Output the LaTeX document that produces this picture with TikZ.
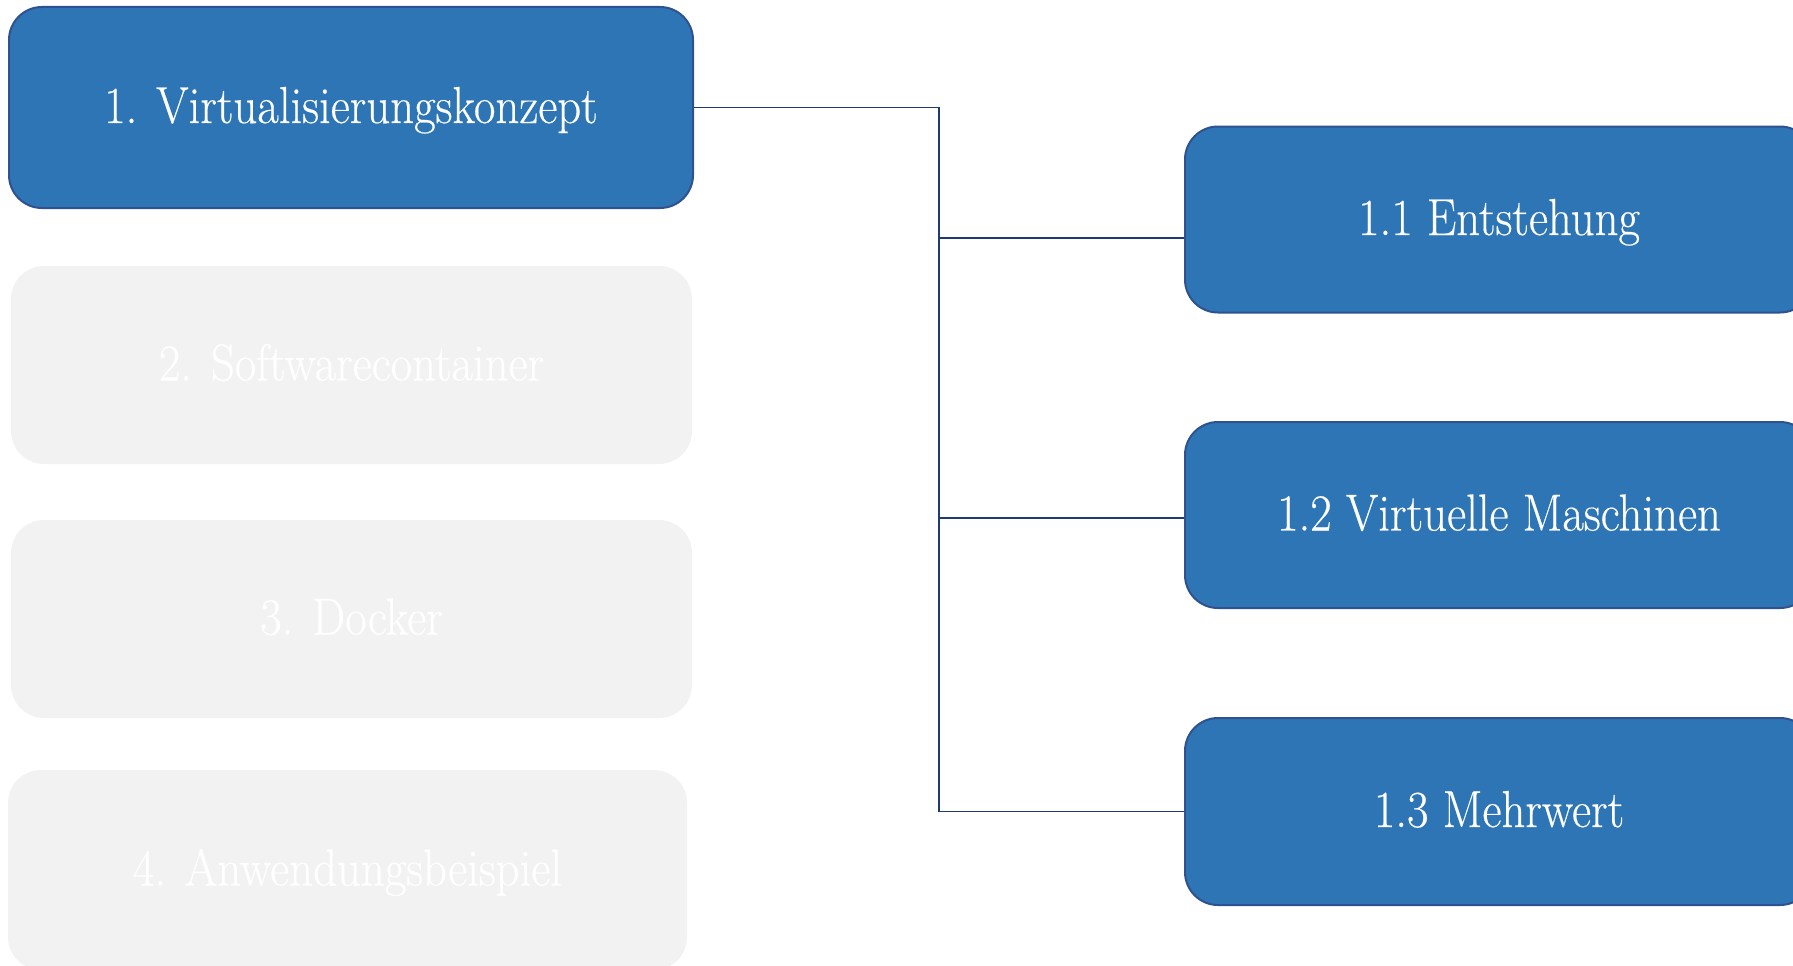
\documentclass[tikz,border=0pt]{standalone}
\usepackage{fontspec}
\setmainfont{Latin Modern Roman}[FakeStretch=0.9, FakeBold=0.4]
\usetikzlibrary{calc}
\definecolor{boxblue}{HTML}{2E75B6}
\definecolor{boxedge}{HTML}{2F528F}
\definecolor{linknavy}{HTML}{1F3A6E}
\definecolor{mutedfill}{HTML}{F2F2F2}
\begin{document}
\begin{tikzpicture}[x=1pt,y=-1pt,
  boxtext/.style={text=white, font=\fontsize{52}{60}\selectfont, inner sep=0pt,
    text height=38pt, text depth=7pt, rounded corners=33pt},
  topic/.style={boxtext, draw=boxedge, line width=2pt, fill=boxblue},
  muted/.style={boxtext, fill=mutedfill},
  link/.style={draw=linknavy, line width=1.5pt}]
  \useasboundingbox (0,0) rectangle (1793,966);
  \clip (0,0) rectangle (1793,966);

  % main chapters
  \node[topic, minimum width=684pt, minimum height=201pt] (c1) at (351,107.5) {1. Virtualisierungskonzept};
  \node[muted, minimum width=681pt, minimum height=198pt] (c2) at (351.5,365) {2. Softwarecontainer};
  \node[muted, minimum width=681pt, minimum height=198pt] (c3) at (351.5,619) {3. Docker};
  \node[muted, minimum width=679pt, minimum height=200pt] (c4) at (347.5,870) {4. Anwendungsbeispiel};

  % sub-sections of chapter 1
  \node[topic, minimum width=628pt, minimum height=186pt] (s1) at (1499,219.5) {1.1 Entstehung};
  \node[topic, minimum width=628pt, minimum height=186pt] (s2) at (1499,515) {1.2 Virtuelle Maschinen};
  \node[topic, minimum width=628pt, minimum height=187pt] (s3) at (1499,811.5) {1.3 Mehrwert};

  % tree connectors
  \coordinate (bus) at (939,107.5);
  \coordinate (e1) at ($(s1.west)+(0,18.5)$);
  \coordinate (e2) at ($(s2.west)+(0,3)$);
  \draw[link] (c1.east) -- (bus) -- (bus |- s3.west) -- (s3.west);
  \draw[link] (e1) -- (bus |- e1);
  \draw[link] (e2) -- (bus |- e2);
\end{tikzpicture}
\end{document}
